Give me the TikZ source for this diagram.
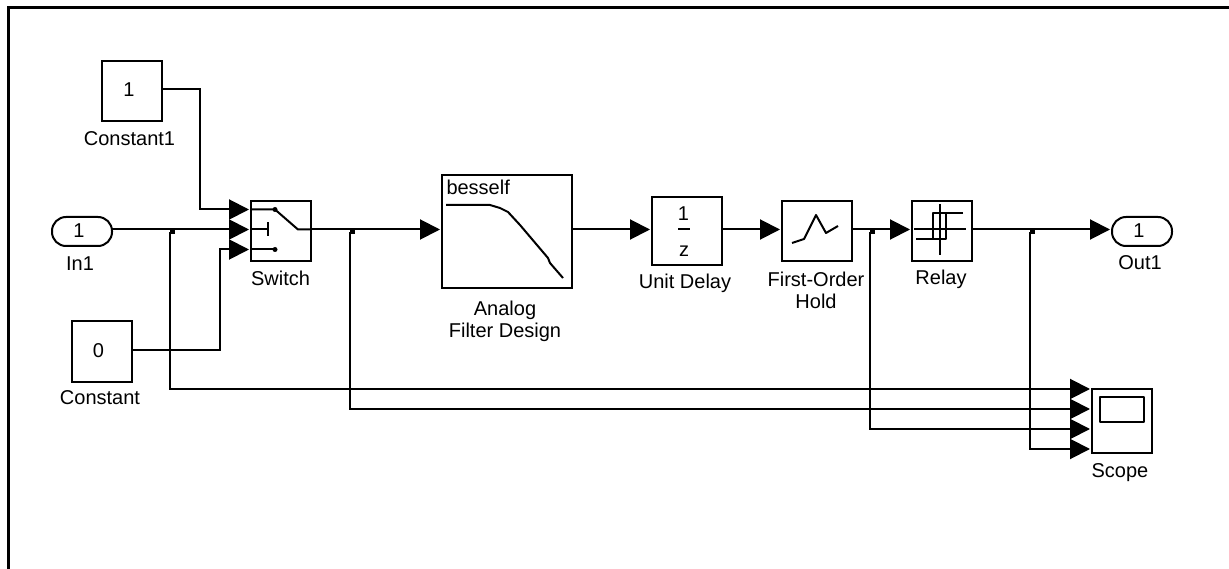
\documentclass[tikz,border=0pt]{standalone}
\usepackage{fontspec}
\setmainfont{Liberation Sans}
\usepackage{tikz}
\usetikzlibrary{positioning,arrows.meta,calc}
\newcommand{\blocknum}[1]{\raisebox{2pt}{#1\kern6pt}}

\begin{document}
\begin{tikzpicture}[
            x=1pt, y=1pt,
            block/.style={rectangle, draw=black, fill=white, line width=2pt, inner sep=0pt,
                         outer sep=0pt, minimum width=60pt, minimum height=60pt,
                         font=\fontsize{20}{22}\selectfont},
            port/.style={rectangle, rounded corners=14pt, draw=black, fill=white, line width=2pt,
                        inner sep=0pt, outer sep=0pt, minimum width=60pt, minimum height=29pt,
                        font=\fontsize{20}{22}\selectfont},
            caption/.style={inner sep=0pt, outer sep=0pt, align=center,
                           font=\fontsize{20}{22}\selectfont},
            wire/.style={line width=2pt, black},
            arrow/.style={wire, -{Triangle[length=20pt,width=20pt]}, shorten >=2pt},
            junct/.style={rectangle, fill=black, inner sep=0pt, minimum size=5pt},
            icon/.style={line width=2pt, black, line join=round}
        ]
            \useasboundingbox (0,0) rectangle (1229,-569);

            % frame
            \coordinate (frameend) at (1229,-8);
            \coordinate (framestart) at (8,-569);
            \draw[line width=3pt] (framestart) |- (frameend);

            % main row
            \coordinate (rail) at (0,-229.5);
            \node[port] (inone) at (82,-231.5) {\blocknum{1}};
            \node[block, right=139pt of inone] (switch) {};
            \node[block, right=131pt of switch, minimum width=130pt, minimum height=113pt] (filter) {};
            \node[block, right=80pt of filter, minimum width=70pt, minimum height=68pt] (delay) {};
            \node[block, right=60pt of delay, minimum width=70pt] (hold) {};
            \node[block, right=60pt of hold] (relay) {};
            \node[port, right=140pt of relay] (outone) {\blocknum{1}};

            % sources and scope
            \node[block] (constone) at (132,-91) {\blocknum{1}};
            \node[block] (constzero) at (101.5,-351.5) {\blocknum{0}};
            \node[block, minimum height=64pt] (scope) at (1122,-421) {};

            % captions
            \node[caption, below=10.5pt of constone, xshift=-2.5pt] (constonetext) {Constant1};
            \node[caption, below=9pt of constzero, xshift=-1.5pt] (constzerotext) {Constant};
            \node[caption, below=11pt of inone, xshift=-2pt] (inonetext) {In1};
            \node[caption, below=10pt of switch, xshift=-0.5pt] (switchtext) {Switch};
            \node[caption, below=13pt of filter, xshift=-2pt] (filtertext) {Analog\\Filter Design};
            \node[caption, below=9pt of delay, xshift=-2pt] (delaytext) {Unit Delay};
            \node[caption, below=11pt of hold, xshift=-1pt] (holdtext) {First-Order\\Hold};
            \node[caption, below=9pt of relay, xshift=-1pt] (relaytext) {Relay};
            \node[caption, below=10pt of outone, xshift=-2pt] (outonetext) {Out1};
            \node[caption, below=11pt of scope, xshift=-2pt] (scopetext) {Scope};

            % input points
            \coordinate (swb) at (switch.west |- rail);
            \coordinate (swa) at ([yshift=20pt]swb);
            \coordinate (swc) at ([yshift=-20pt]swb);
            \coordinate (scopea) at ([yshift=32pt]scope.west);
            \coordinate (scopeb) at ([yshift=12pt]scope.west);
            \coordinate (scopec) at ([yshift=-8pt]scope.west);
            \coordinate (scoped) at ([yshift=-28pt]scope.west);

            % junctions
            \node[junct] (jin) at (172,-232) {};
            \node[junct] (jswitch) at (352,-232) {};
            \node[junct] (jhold) at (872,-232) {};
            \node[junct] (jrelay) at (1032,-232) {};

            % wires
            \draw[arrow] ([yshift=2pt]constone.east) -- ++(38pt,0) |- (swa);
            \draw[arrow] (inone.east |- rail) -- (swb);
            \draw[arrow] ([yshift=2pt]constzero.east) -- ++(88.5pt,0) |- (swc);
            \draw[arrow] (switch.east |- rail) -- (filter.west |- rail);
            \draw[arrow] (filter.east |- rail) -- (delay.west |- rail);
            \draw[arrow] (delay.east |- rail) -- (hold.west |- rail);
            \draw[arrow] (hold.east |- rail) -- (relay.west |- rail);
            \draw[arrow] (relay.east |- rail) -- (outone.west |- rail);
            \draw[arrow] ([xshift=-1.7pt]jin.center) |- (scopea);
            \draw[arrow] ([xshift=-1.7pt]jswitch.center) |- (scopeb);
            \draw[arrow] ([xshift=-1.7pt]jhold.center) |- (scopec);
            \draw[arrow] ([xshift=-1.7pt]jrelay.center) |- (scoped);

            % switch icon
            \draw[icon] (swa) -- ++(24pt,0) -- ($(swb)+(47pt,0)$) -- (switch.east |- rail);
            \draw[icon] (swb) -- ++(17pt,0);
            \draw[icon] ($(swb)+(17pt,7pt)$) -- ++(0,-14pt);
            \draw[icon] (swc) -- ++(24pt,0);
            \fill ($(swa)+(24pt,0)$) circle (2.5pt);
            \fill ($(swc)+(24pt,0)$) circle (2.5pt);

            % filter icon
            \node[caption, anchor=west] (besselftext) at ($(filter.north west)+(4.5pt,-12pt)$) {besself};
            \draw[icon] (446,-205) -- (490,-205) -- (500,-208) -- (508,-212) -- (520,-225)
                -- (548,-258) -- (550,-263) -- (563,-278);

            % unit delay icon
            \node[caption] (delaynum) at ($(rail -| delay.center)+(-3.5pt,16pt)$) {1};
            \node[caption] (delayden) at ($(rail -| delay.center)+(-3pt,-22pt)$) {z};
            \draw[icon] ($(rail -| delay.center)+(-9pt,0)$) -- ++(12pt,0);

            % hold icon
            \draw[icon] (792,-243) -- (804,-239) -- (816,-215) -- (826,-233) -- (838,-226);

            % relay icon
            \draw[icon] (940,-204) -- (940,-255);
            \draw[icon] (914,-229.5) -- (966,-229.5);
            \draw[icon] (963,-213) -- (933,-213) -- (933,-239) -- (916,-239);
            \draw[icon] (933,-239) -- (946,-239) -- (946,-213);

            % scope icon
            \draw[icon] (1100,-397) rectangle (1144,-422);
        \end{tikzpicture}
\end{document}
